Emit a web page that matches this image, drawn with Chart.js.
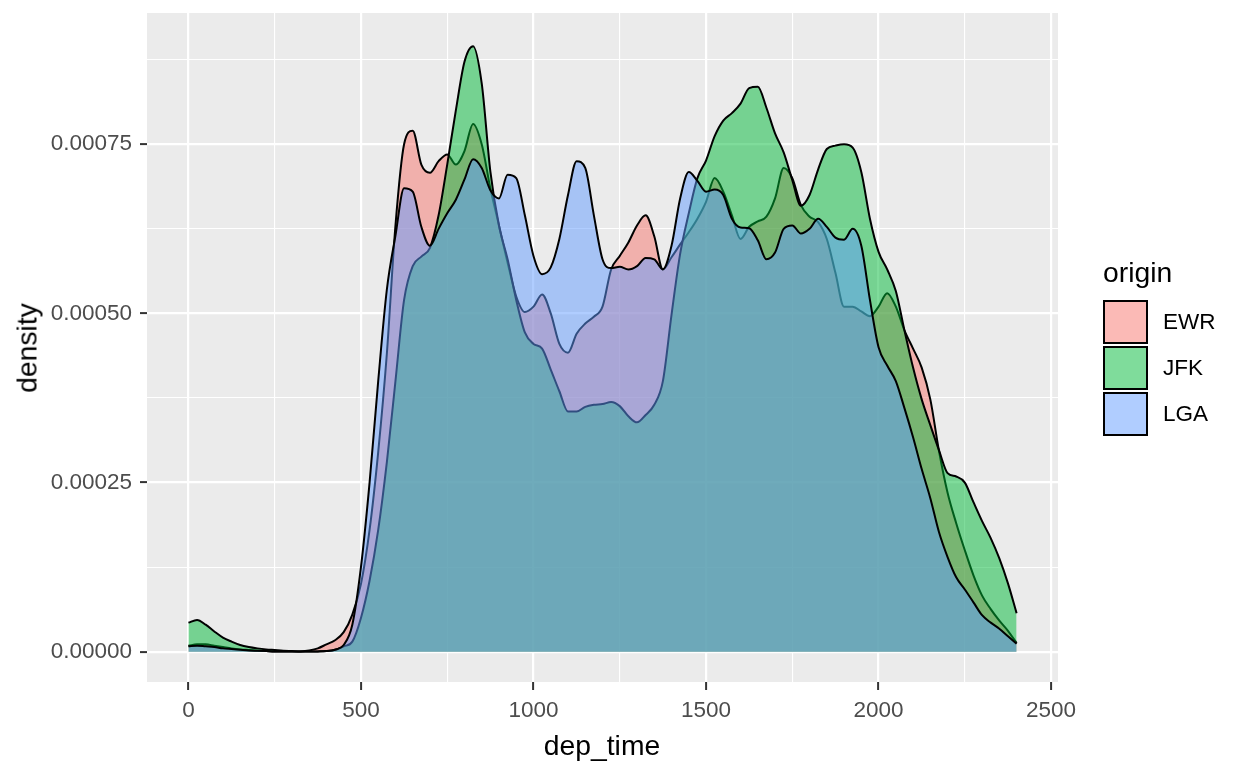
<!DOCTYPE html>
<html lang="en">
<head>
    <meta charset="UTF-8">
    <title>dep_time density by origin</title>
    <script src="https://cdn.jsdelivr.net/npm/chart.js"></script>
    <style>
        body {
            margin: 0;
            padding: 0;
            background: #ffffff;
            font-family: "Liberation Sans", Arial, sans-serif;
        }

        #wrap {
            position: relative;
            width: 1248px;
            height: 768px;
        }

        #chart {
            position: absolute;
            left: 0;
            top: 0;
        }

        .axis-title {
            position: absolute;
            font-size: 28.3px;
            color: #000;
            white-space: nowrap;
        }

        #ytitle {
            left: 27px;
            top: 348px;
            transform: translate(-50%, -50%) rotate(-90deg);
        }

        #xtitle {
            left: 602px;
            top: 745px;
            transform: translate(-50%, -50%);
        }

        #legend {
            position: absolute;
            left: 1103px;
            top: 256px;
        }

        #legend .title {
            font-size: 28.3px;
            line-height: 32px;
            margin-bottom: 11px;
        }

        #legend .item {
            display: flex;
            align-items: center;
            height: 46px;
        }

        #legend .key {
            width: 41px;
            height: 40px;
            border: 2px solid #000;
            box-sizing: content-box;
        }

        #legend .label {
            font-size: 22.5px;
            margin-left: 15px;
        }
    </style>
</head>
<body>
    <div id="wrap">
        <canvas id="chart" width="1248" height="768"></canvas>
        <div id="ytitle" class="axis-title">density</div>
        <div id="xtitle" class="axis-title">dep_time</div>
        <div id="legend"></div>
    </div>

    <script>
        // densities are given in units of 1e-5
        const UNIT = 1e-5;

        const origins = ['EWR', 'JFK', 'LGA'];
        const colors = ['248, 118, 109', '0, 186, 56', '97, 156, 255'];

        const depTime = [
            0, 25, 50, 75, 100, 125, 150, 175, 200, 225, 250, 275, 300, 325, 350, 375,
            400, 425, 450, 475, 500, 525, 550, 575, 600, 625, 650, 675, 700, 725, 750, 775,
            800, 825, 850, 875, 900, 925, 950, 975, 1000, 1025, 1050, 1075, 1100, 1125, 1150, 1175,
            1200, 1225, 1250, 1275, 1300, 1325, 1350, 1375, 1400, 1425, 1450, 1475, 1500, 1525, 1550, 1575,
            1600, 1625, 1650, 1675, 1700, 1725, 1750, 1775, 1800, 1825, 1850, 1875, 1900, 1925, 1950, 1975,
            2000, 2025, 2050, 2075, 2100, 2125, 2150, 2175, 2200, 2225, 2250, 2275, 2300, 2325, 2350, 2375,
            2400
        ];

        const ewr = [
            0.9, 1.1, 1.1, 0.9, 0.7, 0.5, 0.35, 0.25, 0.15, 0.1, 0.05, 0.03, 0.02, 0.05, 0.2, 0.5,
            1.1, 1.7, 2.9, 5.5, 10, 18, 29.5, 44, 63, 75, 77, 72, 70.8, 72.5, 73.5, 72,
            74, 78, 75, 68.5, 63, 57.5, 52.5, 50.2, 51, 52.8, 50, 45.5, 44.2, 47, 48.5, 49.5,
            51, 56.5, 58.5, 60.5, 63, 64.5, 61.4, 56.5, 58.3, 60.2, 62, 64, 66.5, 70, 68, 64.5,
            61, 62.8, 63.6, 64.3, 67, 71.5, 70, 66, 64.3, 63.5, 61, 56, 51, 51, 50.3, 49.6,
            51, 53, 51, 47.5, 44.8, 42, 37.3, 29.7, 23.5, 19, 15, 11.3, 8.3, 6.3, 4.6, 3.1,
            1.3
        ];

        const jfk = [
            4.3, 4.7, 4.0, 3.0, 2.1, 1.5, 1.0, 0.7, 0.5, 0.35, 0.25, 0.15, 0.1, 0.05, 0.05, 0.05,
            0.1, 0.3, 0.8, 1.5, 5, 10.5, 18, 28, 40, 52, 57, 58.4, 59.7, 64.5, 72, 80,
            87.2, 89.5, 84, 71, 63, 58, 52, 47.2, 45.5, 44.8, 41.7, 38.5, 35.5, 35.5, 36.2, 36.5,
            36.6, 36.9, 36.3, 34.8, 33.9, 35, 36.5, 40, 49.8, 58.8, 64.8, 70, 72.6, 76.2, 78.5, 79.6,
            81, 83.3, 83.5, 80.4, 76.6, 73.8, 69.7, 65.9, 67.5, 71.3, 74.3, 74.8, 75, 74.5, 70.9, 64,
            59.1, 56.5, 53.3, 47.5, 42, 37.3, 33.5, 29.8, 26.4, 25.9, 25, 22.1, 19.3, 16.8, 13.8, 10.1,
            5.7
        ];

        const lga = [
            0.8, 0.9, 0.8, 0.7, 0.5, 0.4, 0.3, 0.2, 0.15, 0.1, 0.05, 0.03, 0.02, 0.02, 0.03, 0.05,
            0.1, 0.3, 1.0, 4.0, 12.5, 25, 40, 53.5, 61.5, 68.5, 68, 62.8, 60, 62.5, 64.8, 66.8,
            69.8, 72.8, 71.5, 68.2, 67, 70.5, 70, 64.5, 58.5, 55.8, 56.8, 61, 67.5, 72.5, 71.5, 64.5,
            58, 56.7, 56.9, 56.5, 57, 58.2, 58, 56.5, 60, 67, 70.9, 69.6, 68, 68.3, 67.5, 64,
            62.7, 62.6, 60.8, 58, 59, 62.5, 63, 61.8, 62.5, 64, 62.8, 61.2, 60.9, 62.5, 60, 52,
            45, 42.3, 40, 36, 31.7, 27, 22.7, 17.7, 14, 11, 9.2, 7.3, 5.4, 4.3, 3.4, 2.3,
            1.2
        ];

        const series = [ewr, jfk, lga];

        // axis ticks (major + minor gridlines)
        const xTicks = [0, 250, 500, 750, 1000, 1250, 1500, 1750, 2000, 2250, 2500];
        const yTicks = [0, 0.000125, 0.00025, 0.000375, 0.0005, 0.000625, 0.00075, 0.000875];

        // grey panel behind the grid
        const panelBg = {
            id: 'panelBg',
            beforeDraw(chart) {
                const a = chart.chartArea;
                const ctx = chart.ctx;
                ctx.save();
                ctx.fillStyle = '#EBEBEB';
                ctx.fillRect(a.left, a.top, a.right - a.left, a.bottom - a.top);
                ctx.restore();
            }
        };

        const datasets = origins.map((name, i) => ({
            label: name,
            data: depTime.map((t, j) => ({ x: t, y: series[i][j] * UNIT })),
            borderColor: '#000000',
            borderWidth: 2,
            backgroundColor: `rgba(${colors[i]}, 0.5)`,
            fill: 'origin',
            pointRadius: 0,
            cubicInterpolationMode: 'monotone',
            order: origins.length - i // EWR drawn first, LGA on top
        }));

        const tickFont = { family: '"Liberation Sans", Arial, sans-serif', size: 22.5 };

        // keep the panel exactly where the reference has it
        function noPadding(axis) {
            axis.paddingTop = 0;
            axis.paddingBottom = 0;
            axis.paddingLeft = 0;
            axis.paddingRight = 0;
        }

        new Chart(document.getElementById('chart').getContext('2d'), {
            type: 'line',
            data: { datasets: datasets },
            options: {
                responsive: false,
                animation: false,
                layout: { padding: { left: 0, right: 190, top: 13, bottom: 0 } },
                plugins: {
                    legend: { display: false },
                    tooltip: { enabled: false }
                },
                scales: {
                    x: {
                        type: 'linear',
                        min: -120,
                        max: 2520,
                        afterBuildTicks: axis => { axis.ticks = xTicks.map(v => ({ value: v })); },
                        afterFit: axis => { axis.height = 86; noPadding(axis); },
                        border: { display: false },
                        grid: {
                            color: '#FFFFFF',
                            lineWidth: ctx => (ctx.index % 2 === 0 ? 2.2 : 1.1),
                            tickLength: 8,
                            tickColor: ctx => (ctx.index % 2 === 0 ? '#333333' : 'rgba(0,0,0,0)'),
                            tickWidth: 2
                        },
                        ticks: {
                            autoSkip: false,
                            maxRotation: 0,
                            padding: 7,
                            color: '#4D4D4D',
                            font: tickFont,
                            callback: (v, i) => (i % 2 === 0 ? String(v) : '')
                        }
                    },
                    y: {
                        type: 'linear',
                        min: -0.0000447,
                        max: 0.000944,
                        afterBuildTicks: axis => { axis.ticks = yTicks.map(v => ({ value: v })); },
                        afterFit: axis => { axis.width = 147; noPadding(axis); },
                        border: { display: false },
                        grid: {
                            color: '#FFFFFF',
                            lineWidth: ctx => (ctx.index % 2 === 0 ? 2.2 : 1.1),
                            tickLength: 7,
                            tickColor: ctx => (ctx.index % 2 === 0 ? '#333333' : 'rgba(0,0,0,0)'),
                            tickWidth: 2
                        },
                        ticks: {
                            autoSkip: false,
                            padding: 8,
                            color: '#4D4D4D',
                            font: tickFont,
                            callback: (v, i) => (i % 2 === 0 ? Number(v).toFixed(5) : '')
                        }
                    }
                }
            },
            plugins: [panelBg]
        });

        // legend in ggplot style
        const legend = document.getElementById('legend');
        legend.innerHTML = '<div class="title">origin</div>' + origins.map((name, i) =>
            `<div class="item"><div class="key" style="background: rgba(${colors[i]}, 0.5)"></div>` +
            `<div class="label">${name}</div></div>`
        ).join('');
    </script>
</body>
</html>
